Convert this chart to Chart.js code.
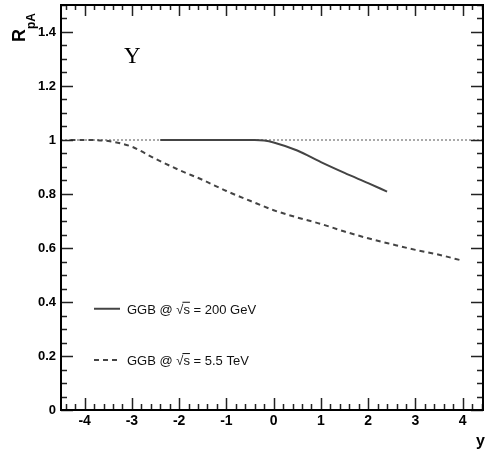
<!DOCTYPE html>
<html>
<head>
<meta charset="utf-8">
<script src="https://cdn.jsdelivr.net/npm/chart.js@4.4.1/dist/chart.umd.min.js"></script>
<style>
  body { margin: 0; background: #fff; }
  canvas { display: block; }
</style>
</head>
<body>
<canvas id="myChart" width="492" height="451" style="width:492px;height:451px"></canvas>
<script>
// axis ranges and tick steps
var xMin = -4.5, xMax = 4.43;
var yMin = 0, yMax = 1.5;
var xTickStep = 1, yTickStep = 0.2;

// GGB @ sqrt(s) = 200 GeV (solid)
var rhicY = [-2.4, -1.5, -0.4, -0.2, 0, 0.5, 1, 1.5, 2, 2.4];
var rhicR = [1.0, 1.0, 1.0, 0.998, 0.991, 0.961, 0.918, 0.878, 0.84, 0.809];

// GGB @ sqrt(s) = 5.5 TeV (dashed)
var lhcY = [-4.3, -4, -3.5, -3, -2.5, -2, -1.5, -1, -0.5, 0, 0.5, 1, 1.5, 2, 2.5, 3, 3.5, 4];
var lhcR = [1.0, 1.0, 0.996, 0.975, 0.93, 0.889, 0.852, 0.811, 0.775, 0.74, 0.713, 0.689, 0.661, 0.636, 0.614, 0.593, 0.575, 0.553];

// reference line at R = 1
var refY = [xMin, xMax];
var refR = [1, 1];

function pts(xs, ys) {
    var out = [];
    for (var i = 0; i < xs.length; i++) out.push({x: xs[i], y: ys[i]});
    return out;
}

function fmt(v) {
    return String(Math.round(v * 10) / 10);
}

var frameAndText = {
    id: 'frameAndText',
    afterDatasetsDraw: function (chart) {
        var c = chart.ctx;
        var a = chart.chartArea;
        var xs = chart.scales.x, ys = chart.scales.y;
        c.save();

        // ticks inside the frame
        c.strokeStyle = '#222';
        c.lineWidth = 1.5;
        c.beginPath();
        for (var k = Math.ceil(xMin / 0.2 - 1e-6); k <= Math.floor(xMax / 0.2 + 1e-6); k++) {
            var px = Math.round(xs.getPixelForValue(k * 0.2)) + 0.5;
            var len = (k % 5 === 0) ? 12 : 6;
            c.moveTo(px, a.bottom); c.lineTo(px, a.bottom - len);
            c.moveTo(px, a.top); c.lineTo(px, a.top + len - 1);
        }
        for (var j = 0; j <= Math.round(yMax / 0.05); j++) {
            var py = Math.round(ys.getPixelForValue(j * 0.05)) + 0.5;
            var ylen = (j % 4 === 0) ? 12 : 6;
            c.moveTo(a.left, py); c.lineTo(a.left + ylen, py);
            c.moveTo(a.right, py); c.lineTo(a.right - ylen, py);
        }
        c.stroke();

        // frame
        c.strokeStyle = '#000';
        c.lineWidth = 2;
        c.strokeRect(a.left, a.top, a.right - a.left, a.bottom - a.top);

        // y axis title R_pA
        c.fillStyle = '#000';
        c.translate(25, 42);
        c.rotate(-Math.PI / 2);
        c.font = 'bold 18px "Liberation Sans", Arial, sans-serif';
        c.textBaseline = 'alphabetic';
        c.textAlign = 'left';
        c.fillText('R', 0, 0);
        var rw = c.measureText('R').width;
        c.font = 'bold 12px "Liberation Sans", Arial, sans-serif';
        c.fillText('pA', rw, 10);
        c.setTransform(1, 0, 0, 1, 0, 0);

        // x axis title
        c.font = 'bold 16px "Liberation Sans", Arial, sans-serif';
        c.textAlign = 'right';
        c.fillText('y', a.right + 2, 446);

        // Upsilon
        c.font = '23px "Liberation Serif", "Times New Roman", serif';
        c.textAlign = 'left';
        c.fillText('\u03A5', 124, 63);

        // legend
        var lx = a.left + 33;
        drawEntry(c, lx, ys.getPixelForValue(0.375), [], '200 GeV');
        drawEntry(c, lx, ys.getPixelForValue(0.185), [5, 4], '5.5 TeV');

        c.restore();
    }
};

function drawEntry(c, x, y, dash, tail) {
    c.save();
    c.strokeStyle = '#444';
    c.lineWidth = 2;
    c.setLineDash(dash);
    c.beginPath();
    c.moveTo(x, y); c.lineTo(x + 26, y);
    c.stroke();
    c.setLineDash([]);
    c.fillStyle = '#111';
    c.font = '13px "Liberation Sans", Arial, sans-serif';
    c.textAlign = 'left';
    var tx = x + 33, base = y + 5;
    var s1 = 'GGB @ ';
    c.fillText(s1, tx, base);
    tx += c.measureText(s1).width;
    c.fillText('\u221A', tx, base);
    tx += c.measureText('\u221A').width;
    c.fillText('s', tx, base);
    var sw = c.measureText('s').width;
    c.lineWidth = 1;
    c.strokeStyle = '#111';
    c.beginPath();
    c.moveTo(tx - 1, base - 11.5); c.lineTo(tx + sw, base - 11.5);
    c.stroke();
    tx += sw;
    c.fillText(' = ' + tail, tx, base);
    c.restore();
}

var ctx = document.getElementById('myChart').getContext('2d');
var myChart = new Chart(ctx, {
    type: 'scatter',
    data: {
        datasets: [
            {
                data: pts(refY, refR),
                showLine: true,
                borderColor: '#555',
                borderWidth: 1,
                borderDash: [2, 2],
                pointRadius: 0,
                order: 3
            },
            {
                data: pts(lhcY, lhcR),
                showLine: true,
                borderColor: '#444',
                borderWidth: 2,
                borderDash: [5, 4],
                pointRadius: 0,
                cubicInterpolationMode: 'monotone',
                order: 2
            },
            {
                data: pts(rhicY, rhicR),
                showLine: true,
                borderColor: '#444',
                borderWidth: 2,
                pointRadius: 0,
                cubicInterpolationMode: 'monotone',
                order: 1
            }
        ]
    },
    options: {
        responsive: false,
        devicePixelRatio: 1,
        animation: false,
        events: [],
        layout: { padding: { top: 5, right: 9, left: 0, bottom: 0 } },
        plugins: { legend: { display: false }, tooltip: { enabled: false } },
        scales: {
            x: {
                type: 'linear',
                min: xMin, max: xMax,
                border: { display: false },
                grid: { display: false, drawTicks: false },
                afterFit: function (s) { s.height = 41; s.paddingLeft = 0; s.paddingRight = 0; },
                ticks: {
                    stepSize: xTickStep,
                    includeBounds: false,
                    padding: 3,
                    color: '#000',
                    font: { family: '"Liberation Sans", Arial, sans-serif', size: 14, weight: 'bold' },
                    callback: function (v) { return fmt(v); }
                }
            },
            y: {
                type: 'linear',
                min: yMin, max: yMax,
                border: { display: false },
                grid: { display: false, drawTicks: false },
                afterFit: function (s) { s.width = 61; s.paddingTop = 0; s.paddingBottom = 0; },
                ticks: {
                    stepSize: yTickStep,
                    includeBounds: false,
                    padding: 5,
                    color: '#000',
                    font: { family: '"Liberation Sans", Arial, sans-serif', size: 13, weight: 'bold' },
                    callback: function (v) { return fmt(v); }
                }
            }
        }
    },
    plugins: [frameAndText]
});
</script>
</body>
</html>
